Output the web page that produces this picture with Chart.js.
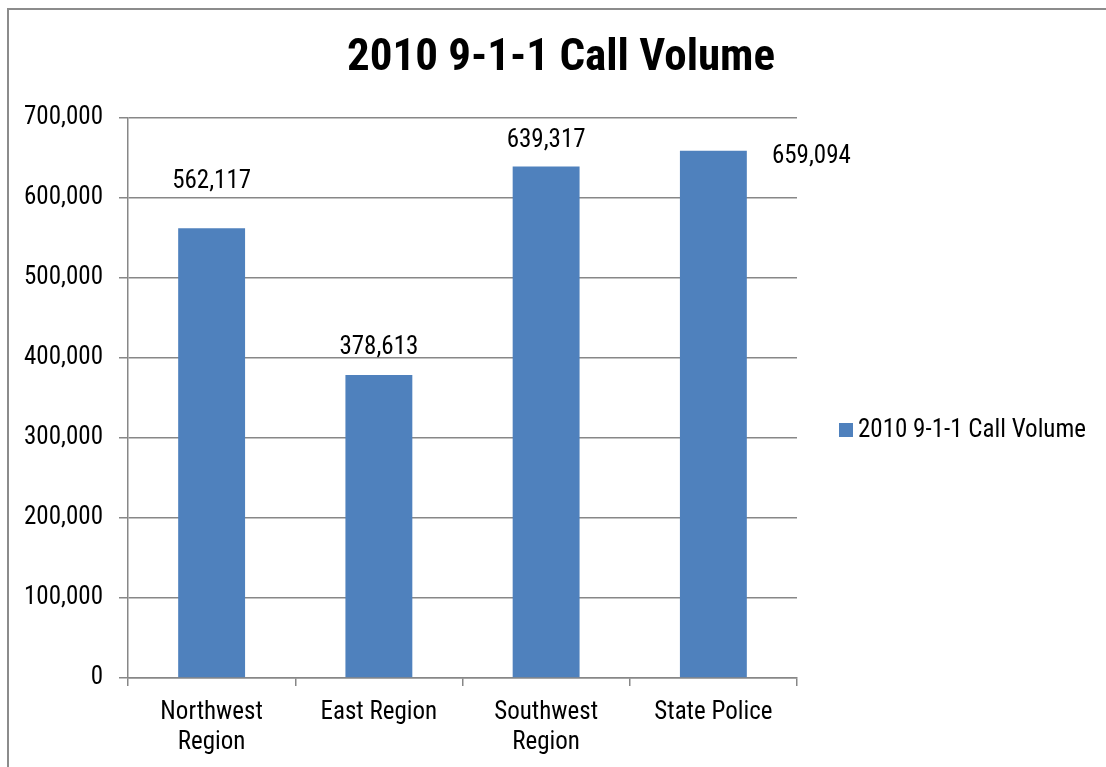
<!DOCTYPE html>
<html>
<head>
<meta charset="utf-8">
<script src="https://cdn.jsdelivr.net/npm/chart.js@4.4.1/dist/chart.umd.min.js"></script>
<style>
    body { margin: 0; background: #fff; }
    #frame { position: absolute; left: 7px; top: 8px; width: 1200px; height: 900px; border: 2px solid #8c8c8c; }
    #wrap { position: absolute; left: 0; top: 0; width: 1106px; height: 767px; }
</style>
</head>
<body>
<div id="frame"></div>
<div id="wrap"><canvas id="barChart"></canvas></div>
<script>
const chartTitle = '2010 9-1-1 Call Volume';
const seriesName = '2010 9-1-1 Call Volume';
const categories = [['Northwest', 'Region'], 'East Region', ['Southwest', 'Region'], 'State Police'];
const callVolume = [562117, 378613, 639317, 659094];
const yTicks = [0, 100000, 200000, 300000, 400000, 500000, 600000, 700000];

const FONT = '"Roboto Condensed", "Liberation Sans", Arial, sans-serif';
const BAR_COLOR = '#4f81bd';
const GRID_COLOR = '#878787';
// label nudges (px), excel had some labels moved by hand
const labelNudge = [[0, -47], [0, -27], [0, -26], [98, 6]];

const valueLabels = {
    id: 'valueLabels',
    afterDatasetsDraw(chart) {
        const ctx = chart.ctx;
        const meta = chart.getDatasetMeta(0);
        ctx.save();
        ctx.font = '25px ' + FONT;
        ctx.fillStyle = '#000';
        ctx.textAlign = 'center';
        ctx.textBaseline = 'middle';
        meta.data.forEach((bar, i) => {
            const v = chart.data.datasets[0].data[i];
            ctx.fillText(v.toLocaleString('en-US'), bar.x + labelNudge[i][0], bar.y + labelNudge[i][1]);
        });
        ctx.restore();
    }
};

const titleAndLegend = {
    id: 'titleAndLegend',
    afterDraw(chart) {
        const ctx = chart.ctx;
        const ds = chart.data.datasets[0];
        ctx.save();
        ctx.fillStyle = '#000';
        ctx.textAlign = 'center';
        ctx.textBaseline = 'middle';
        ctx.font = 'bold 45px ' + FONT;
        ctx.fillText(chartTitle, 561, 59);

        ctx.fillStyle = ds.backgroundColor;
        ctx.fillRect(839, 423, 14, 14);
        ctx.font = '25px ' + FONT;
        ctx.fillStyle = '#000';
        ctx.textAlign = 'left';
        ctx.fillText(ds.label, 858, 431);
        ctx.restore();
    }
};

document.addEventListener('DOMContentLoaded', function() {
    const ctx = document.getElementById('barChart').getContext('2d');
    new Chart(ctx, {
        type: 'bar',
        data: {
            labels: categories,
            datasets: [{
                label: seriesName,
                data: callVolume,
                backgroundColor: BAR_COLOR,
                categoryPercentage: 1,
                barPercentage: 0.4
            }]
        },
        options: {
            responsive: true,
            maintainAspectRatio: false,
            animation: false,
            layout: { padding: { left: 0, right: 309, top: 118, bottom: 0 } },
            plugins: {
                legend: { display: false },
                tooltip: { enabled: false },
                title: { display: false }
            },
            scales: {
                x: {
                    afterFit: s => { s.height = 89; },
                    grid: {
                        offset: true,
                        drawOnChartArea: false,
                        drawTicks: true,
                        tickLength: 8,
                        color: GRID_COLOR,
                        lineWidth: 1.5
                    },
                    border: { color: GRID_COLOR, width: 1.5 },
                    ticks: {
                        color: '#000',
                        padding: 12,
                        maxRotation: 0,
                        font: { family: FONT, size: 25, lineHeight: 1.2 }
                    }
                },
                y: {
                    min: 0,
                    max: 700000,
                    afterFit: s => { s.width = 128; },
                    afterBuildTicks: s => { s.ticks = yTicks.map(v => ({ value: v })); },
                    grid: {
                        color: GRID_COLOR,
                        lineWidth: 1.5,
                        tickLength: 9
                    },
                    border: { color: GRID_COLOR, width: 1.5 },
                    ticks: {
                        color: '#000',
                        padding: 16,
                        font: { family: FONT, size: 25 },
                        callback: v => v.toLocaleString('en-US')
                    }
                }
            }
        },
        plugins: [valueLabels, titleAndLegend]
    });
});
</script>
</body>
</html>
